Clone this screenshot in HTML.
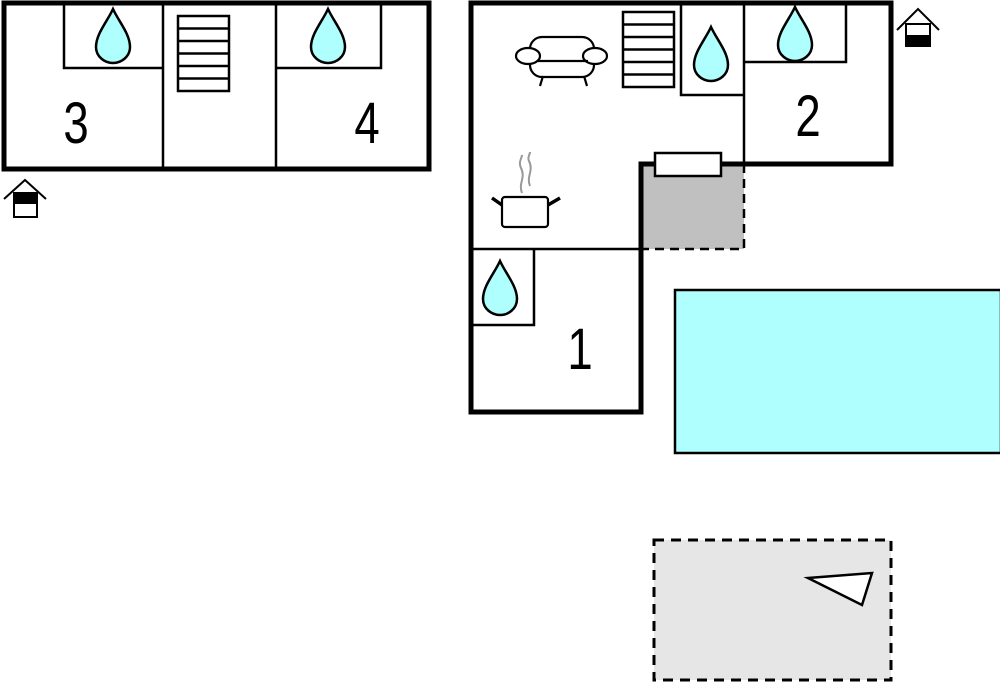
<!DOCTYPE html>
<html><head><style>body{margin:0;background:#fff}svg{display:block}</style></head>
<body>
<svg width="1000" height="686" viewBox="0 0 1000 686" xmlns="http://www.w3.org/2000/svg" font-family="Liberation Sans, sans-serif">
<defs>
<path id="drop" d="M0,-27 C-6,-14 -17,-2 -17,11 C-17,21 -8,27 0,27 C8,27 17,21 17,11 C17,-2 6,-14 0,-27 Z" fill="#b0ffff" stroke="#000" stroke-width="2.5"/>
<g id="stair"><rect x="0" y="0" width="51" height="75" fill="#fff" stroke="#000" stroke-width="2.5"/>
<path d="M0,12.5H51M0,25H51M0,37.5H51M0,50H51M0,62.5H51" stroke="#000" stroke-width="2.5"/></g>
</defs>
<!-- terrace -->
<rect x="654" y="540" width="237" height="140" fill="#e6e6e6" stroke="#000" stroke-width="3" stroke-dasharray="10,7"/>
<polygon points="808,578 872,573 862,605" fill="#fff" stroke="#000" stroke-width="2.5"/>
<!-- pool -->
<rect x="675" y="290" width="326" height="163" fill="#b0ffff" stroke="#000" stroke-width="2.5"/>

<!-- left building -->
<rect x="4" y="3" width="425" height="166" fill="#fff" stroke="#000" stroke-width="5"/>
<path d="M163,3V169M276,3V169M64,3V68H163M276,68H381V3" fill="none" stroke="#000" stroke-width="2.5"/>
<use href="#drop" x="113" y="36"/>
<use href="#drop" x="328" y="36"/>
<use href="#stair" x="178" y="16"/>
<text font-size="48" text-anchor="middle" transform="translate(76,143) scale(0.95,1.22)">3</text>
<text font-size="48" text-anchor="middle" transform="translate(367,143) scale(0.95,1.22)">4</text>
<!-- entrance left -->
<path d="M4,199L25,180L46,199" fill="none" stroke="#000" stroke-width="2"/>
<rect x="14" y="193" width="23" height="24" fill="#fff" stroke="#000" stroke-width="2"/>
<rect x="14" y="193" width="23" height="11" fill="#000"/>

<!-- right building -->
<rect x="641" y="164" width="103" height="85" fill="#c0c0c0"/>
<path d="M744,164V249H641" fill="none" stroke="#000" stroke-width="2.5" stroke-dasharray="9,6"/>
<polygon points="471,3 891,3 891,164 641,164 641,412 471,412" fill="none" stroke="#000" stroke-width="5"/>
<path d="M744,3V164M681,3V95H744M744,62H846V3M471,249H641M534,249V325H471" fill="none" stroke="#000" stroke-width="2.5"/>
<rect x="655" y="153" width="66" height="23" fill="#fff" stroke="#000" stroke-width="2.5"/>
<use href="#drop" x="711" y="54"/>
<use href="#drop" x="795" y="34"/>
<use href="#drop" x="500" y="288"/>
<use href="#stair" x="623" y="12"/>
<text font-size="48" text-anchor="middle" transform="translate(580,369) scale(0.95,1.22)">1</text>
<text font-size="48" text-anchor="middle" transform="translate(808,136) scale(0.95,1.22)">2</text>
<!-- sofa -->
<g fill="#fff" stroke="#000" stroke-width="2.2">
<rect x="530" y="37" width="64" height="40" rx="12"/>
<ellipse cx="528" cy="56" rx="12" ry="8"/>
<ellipse cx="595" cy="56" rx="12" ry="8"/>
<path d="M538,61H588M543,76L540,86M584,76L587,86" fill="none"/>
</g>
<!-- pot -->
<g stroke="#000" stroke-width="2.2" fill="#fff">
<rect x="502" y="197" width="46" height="30" rx="3"/>
<path d="M502,205L492,198M548,205L560,198" stroke-width="3.5"/>
</g>
<path d="M522,193C518,183 526,178 521,168C518,162 522,158 522,155M530,186C526,176 534,171 529,161C527,157 530,155 530,152" fill="none" stroke="#999" stroke-width="2"/>
<!-- entrance right -->
<path d="M897,30L918,9L939,30" fill="none" stroke="#000" stroke-width="2"/>
<rect x="906" y="24" width="24" height="22" fill="#fff" stroke="#000" stroke-width="2"/>
<rect x="906" y="35" width="24" height="11" fill="#000"/>
</svg>
</body></html>
